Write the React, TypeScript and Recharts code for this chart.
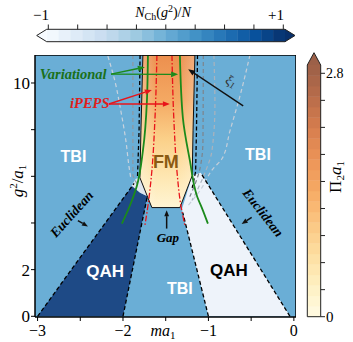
import React from "react";
import { ComposedChart, XAxis, YAxis, Scatter, Curve } from "recharts";

type Pt = [number, number];
type XY = { x: number; y: number };

const SERIF = "'Liberation Serif', 'Times New Roman', serif";
const SANS = "'Liberation Sans', Arial, sans-serif";

// axes (ma1 horizontally, g^2/a1 vertically)
const xTicks = [-3, -2.5, -2, -1.5, -1, -0.5, 0];
const xTickLabels = [-3, -2, -1, 0];
const yTicks = [0, 2, 4, 6, 8, 10];
const yTickLabels = [0, 2, 10];
const xDomain: Pt = [-3.03, 0.025];
const yDomain: Pt = [-0.03, 11.2];

// phase regions
const plotBox: Pt[] = [[-3.03, -0.03], [0.025, -0.03], [0.025, 11.2], [-3.03, 11.2]];
const qahDark: Pt[] = [[-3, 0], [-2, 0], [-1.715, 5.15], [-1.8, 5.3], [-1.89, 5.6]];
const qahLight: Pt[] = [[-1, 0], [-0.046, 0], [-1.09, 6.15], [-1.19, 6.03], [-1.31, 4.6], [-1.3, 4.44]];
const gapPatch: Pt[] = [[-1.9, 5.6], [-1.85, 5.9], [-1.8, 5.94], [-1.73, 5.28], [-1.715, 5.15], [-1.8, 5.3]];
const fmRegion: Pt[] = [[-1.767, 11.2], [-1.158, 11.2], [-1.18, 7.95], [-1.19, 6.03], [-1.334, 4.66], [-1.662, 4.66], [-1.802, 5.94], [-1.79, 7.95]];

// dashed phase boundaries
const edgeDarkL: Pt[] = [[-3, 0], [-1.87, 5.7]];
const edgeDarkR: Pt[] = [[-2, 0], [-1.715, 5.15]];
const edgeLightL: Pt[] = [[-1, 0], [-1.3, 4.44]];
const edgeLightR: Pt[] = [[-0.046, 0], [-1.09, 6.15]];
const edgeFmL: Pt[] = [[-1.8, 11.2], [-1.812, 7.95], [-1.83, 6.0]];
const edgeFmR: Pt[] = [[-1.128, 11.2], [-1.14, 7.95], [-1.15, 6.2], [-1.19, 5.5]];

// xi_1 contours
const xiL1: Pt[] = [[-2.177, 11.15], [-2.095, 10.09], [-2.025, 8.8], [-1.966, 7.52], [-1.931, 6.45], [-1.908, 5.9]];
const xiL2: Pt[] = [[-1.884, 11.2], [-1.884, 6.03], [-1.837, 5.68]];
const xiR2: Pt[] = [[-1.06, 11.2], [-1.064, 7.52], [-1.1, 6.32], [-1.217, 5.13]];
const xiR3: Pt[] = [[-0.936, 11.2], [-0.924, 9.02], [-0.959, 7.09], [-1.041, 6.15], [-1.193, 4.96]];
const xiR4: Pt[] = [[-0.514, 11.2], [-0.631, 9.44], [-0.748, 7.95], [-0.842, 6.75], [-0.947, 6.32], [-1.1, 5.38], [-1.24, 4.74]];

// variational (green) and iPEPS (red) boundaries
const greenL: Pt[] = [[-1.708, 11.2], [-1.72, 9.23], [-1.767, 7.09], [-1.837, 5.6], [-1.92, 4.74], [-2.013, 3.97]];
const greenR: Pt[] = [[-1.334, 11.2], [-1.299, 8.5], [-1.217, 6.67], [-1.135, 5.17], [-1.064, 4.53], [-1.006, 3.97]];
const redL: Pt[] = [[-1.603, 11.2], [-1.627, 8.38], [-1.662, 6.24], [-1.708, 4.74], [-1.744, 3.89]];
const redR: Pt[] = [[-1.427, 11.2], [-1.404, 8.38], [-1.369, 6.24], [-1.322, 4.74], [-1.275, 3.89]];

// annotation arrows
const arrVar1: Pt[] = [[-2.14, 10.38], [-1.744, 10.68]];
const arrVar2: Pt[] = [[-2.14, 10.38], [-1.355, 10.37]];
const arrPeps1: Pt[] = [[-2.165, 9.1], [-1.662, 9.7]];
const arrPeps2: Pt[] = [[-2.165, 9.1], [-1.451, 9.1]];
const arrXi: Pt[] = [[-0.593, 9.02], [-1.237, 10.59]];
const arrEucL: Pt[] = [[-2.528, 4.1], [-2.41, 3.85]];
const arrEucR: Pt[] = [[-0.494, 4.24], [-0.611, 3.96]];
const arrGap: Pt[] = [[-1.489, 3.76], [-1.489, 4.55]];

// annotation anchors
const tbiAt: Pt[] = [[-2.58, 6.84], [-0.42, 6.92], [-1.334, 1.2]];
const qahDarkAt: Pt[] = [[-2.21, 1.92]];
const qahLightAt: Pt[] = [[-0.76, 1.97]];
const fmAt: Pt[] = [[-1.498, 6.62]];
const variationalAt: Pt[] = [[-2.975, 10.17]];
const ipepsAt: Pt[] = [[-2.62, 8.93]];
const eucLAt: Pt[] = [[-2.6, 4.38]];
const eucRAt: Pt[] = [[-0.36, 4.44]];
const gapAt: Pt[] = [[-1.474, 3.38]];
const xiAt: Pt[] = [[-0.73, 10.08]];

// colorbars
const blues = ["#f7fbff", "#deebf7", "#c6dbef", "#9ecae1", "#6baed6", "#4292c6", "#2171b5", "#08519c", "#08306b"];
const oranges = ["#fffbe3", "#fef0c2", "#fddea0", "#fbc682", "#f6aa64", "#ec9458", "#d67d4e", "#b86c4a", "#9c6048"];

const toData = (a: Pt[]) => a.map(([x, y]) => ({ x, y }));
const noDot = () => <g />;
const pathOf = (pts: XY[]) => "M" + pts.map((p) => `${p.x.toFixed(2)},${p.y.toFixed(2)}`).join("L");

const hex = (h: string) => [1, 3, 5].map((i) => parseInt(h.slice(i, i + 2), 16));
const mix = (stops: string[], t: number) => {
  const f = Math.max(0, Math.min(1, t)) * (stops.length - 1);
  const i = Math.min(stops.length - 2, Math.floor(f));
  const a = hex(stops[i]);
  const b = hex(stops[i + 1]);
  const k = f - i;
  return `rgb(${a.map((v, j) => Math.round(v + (b[j] - v) * k)).join(",")})`;
};

const poly = (key: string, pts: Pt[], fill: string, stroke = "none", sw = 0, defs?: React.ReactNode) => (
  <Scatter
    key={key}
    data={toData(pts)}
    isAnimationActive={false}
    shape={noDot}
    line={(p: any) => (
      <g>
        {defs}
        <path d={pathOf(p.points) + "Z"} fill={fill} stroke={stroke} strokeWidth={sw} strokeLinejoin="round" />
      </g>
    )}
  />
);

const curve = (key: string, pts: Pt[], stroke: string, sw: number, dash?: string, type: any = "linear") => (
  <Scatter
    key={key}
    data={toData(pts)}
    isAnimationActive={false}
    shape={noDot}
    line={(p: any) => (
      <Curve points={p.points} type={type} fill="none" stroke={stroke} strokeWidth={sw} strokeDasharray={dash} />
    )}
  />
);

const arrow = (key: string, pts: Pt[], color: string, sw = 1.3, head = 7) => (
  <Scatter
    key={key}
    data={toData(pts)}
    isAnimationActive={false}
    shape={noDot}
    line={(p: any) => {
      const a: XY = p.points[0];
      const b: XY = p.points[p.points.length - 1];
      const ang = Math.atan2(b.y - a.y, b.x - a.x);
      const c = Math.cos(ang);
      const s = Math.sin(ang);
      const bx = b.x - head * c;
      const by = b.y - head * s;
      const w = head * 0.4;
      return (
        <g>
          <line x1={a.x} y1={a.y} x2={bx} y2={by} stroke={color} strokeWidth={sw} />
          <polygon points={`${b.x},${b.y} ${bx - w * s},${by + w * c} ${bx + w * s},${by - w * c}`} fill={color} />
        </g>
      );
    }}
  />
);

const label = (key: string, pos: Pt[], content: React.ReactNode, style: any, rotate = 0) => (
  <Scatter
    key={key}
    data={toData(pos)}
    isAnimationActive={false}
    shape={(p: any) => (
      <text
        x={p.cx}
        y={p.cy}
        transform={rotate ? `rotate(${rotate} ${p.cx} ${p.cy})` : undefined}
        textAnchor="middle"
        dominantBaseline="central"
        {...style}
      >
        {content}
      </text>
    )}
  />
);

const fmDefs = (
  <defs>
    <linearGradient id="fmV" x1="0" y1="0" x2="0" y2="1">
      <stop offset="0" stopColor="#ec8f4e" />
      <stop offset="0.3" stopColor="#f4a963" />
      <stop offset="0.55" stopColor="#fbd089" />
      <stop offset="0.8" stopColor="#fee7b2" />
      <stop offset="1" stopColor="#fff5d4" />
    </linearGradient>
    <linearGradient id="fmH" x1="0" y1="0" x2="1" y2="0">
      <stop offset="0" stopColor="#fff" stopOpacity="0.3" />
      <stop offset="0.3" stopColor="#fff" stopOpacity="0" />
      <stop offset="0.7" stopColor="#fff" stopOpacity="0" />
      <stop offset="1" stopColor="#fff" stopOpacity="0.25" />
    </linearGradient>
  </defs>
);

const boldSans = { fontFamily: SANS, fontWeight: 700 };
const boldItalic = { fontFamily: SERIF, fontWeight: 700, fontStyle: "italic" };

function ColorBars() {
  const topBands = 20;
  const tx0 = 46.7, tx1 = 285, ty0 = 29.3, ty1 = 41.7;
  const rBands = 24;
  const rx0 = 307.3, rx1 = 320.7, ry0 = 65, ry1 = 316.7;
  const bw = (tx1 - tx0) / topBands;
  const bh = (ry1 - ry0) / rBands;
  return (
    <svg width={353} height={342} style={{ position: "absolute", left: 0, top: 0, pointerEvents: "none" }}>
      {Array.from({ length: topBands }, (_, i) => (
        <rect key={i} x={tx0 + i * bw} y={ty0} width={bw + 0.4} height={ty1 - ty0} fill={mix(blues, (i + 0.5) / topBands)} />
      ))}
      <polygon points={`${tx0},${ty0} 36.7,35.5 ${tx0},${ty1}`} fill={blues[0]} />
      <polygon points={`${tx1},${ty0} 295,35.5 ${tx1},${ty1}`} fill={blues[8]} />
      <path d={`M${tx0},${ty0}L${tx1},${ty0}L295,35.5L${tx1},${ty1}L${tx0},${ty1}L36.7,35.5Z`} fill="none" stroke="#222" strokeWidth={1} />
      {Array.from({ length: 9 }, (_, i) => {
        const x = 48.3 + (i * (283.3 - 48.3)) / 8;
        return <line key={i} x1={x} x2={x} y1={ty0} y2={24.5} stroke="#222" strokeWidth={1} />;
      })}
      <text x={41} y={20} textAnchor="middle" fontFamily={SERIF} fontSize={15}>−1</text>
      <text x={276} y={20} textAnchor="middle" fontFamily={SERIF} fontSize={15}>+1</text>
      <text x={163} y={17} textAnchor="middle" fontFamily={SERIF} fontSize={14}>
        <tspan fontStyle="italic">N</tspan>
        <tspan fontSize={10} dy={3}>Ch</tspan>
        <tspan dy={-3}>(</tspan>
        <tspan fontStyle="italic">g</tspan>
        <tspan fontSize={10} dy={-5}>2</tspan>
        <tspan dy={5}>)/</tspan>
        <tspan fontStyle="italic">N</tspan>
      </text>

      {Array.from({ length: rBands }, (_, i) => (
        <rect key={i} x={rx0} y={ry1 - (i + 1) * bh} width={rx1 - rx0} height={bh + 0.4} fill={mix(oranges, (i + 0.5) / rBands)} />
      ))}
      <polygon points={`${rx0},${ry0} 314,52.7 ${rx1},${ry0}`} fill={oranges[8]} />
      <path d={`M${rx0},${ry1}L${rx0},${ry0}L314,52.7L${rx1},${ry0}L${rx1},${ry1}Z`} fill="none" stroke="#222" strokeWidth={1} />
      {Array.from({ length: 10 }, (_, i) => {
        const y = ry1 - (i * (ry1 - 73.3)) / 9;
        return <line key={i} x1={rx1} x2={325} y1={y} y2={y} stroke="#222" strokeWidth={1} />;
      })}
      <text x={326} y={73.3} dominantBaseline="central" fontFamily={SERIF} fontSize={14}>2.8</text>
      <text x={326} y={316.7} dominantBaseline="central" fontFamily={SERIF} fontSize={15}>0</text>
      <text transform="translate(341,177) rotate(-90)" textAnchor="middle" fontFamily={SERIF} fontSize={17}>
        Π<tspan fontSize={11} dy={3}>2</tspan>
        <tspan dy={-3} fontStyle="italic">a</tspan>
        <tspan fontSize={11} dy={3}>1</tspan>
      </text>

      <text x={163} y={336} textAnchor="middle" fontFamily={SERIF} fontSize={16}>
        <tspan fontStyle="italic">ma</tspan>
        <tspan fontSize={11} dy={3}>1</tspan>
      </text>
      <text transform="translate(23,181) rotate(-90)" textAnchor="middle" fontFamily={SERIF} fontSize={17}>
        <tspan fontStyle="italic">g</tspan>
        <tspan fontSize={11} dy={-6}>2</tspan>
        <tspan dy={6}>/</tspan>
        <tspan fontStyle="italic">a</tspan>
        <tspan fontSize={11} dy={3}>1</tspan>
      </text>
    </svg>
  );
}

export default function App() {
  return (
    <div style={{ position: "absolute", left: 0, top: 0, width: 353, height: 342, background: "#fff" }}>
      <ComposedChart width={353} height={342} margin={{ top: 55, right: 57, bottom: 0, left: 0 }}>
        <XAxis
          type="number"
          dataKey="x"
          domain={xDomain}
          allowDataOverflow
          ticks={xTicks}
          interval={0}
          height={25}
          tickSize={4}
          tickMargin={4}
          tickFormatter={(v: number) => (xTickLabels.includes(v) ? (v < 0 ? "−" + Math.abs(v) : String(v)) : "")}
          tick={{ fill: "#000", fontSize: 16, fontFamily: SERIF }}
          axisLine={{ stroke: "#000", strokeWidth: 1.5 }}
          tickLine={{ stroke: "#000", strokeWidth: 1 }}
        />
        <YAxis
          type="number"
          dataKey="y"
          domain={yDomain}
          allowDataOverflow
          ticks={yTicks}
          interval={0}
          width={35}
          tickSize={4}
          tickMargin={1}
          tickFormatter={(v: number) => (yTickLabels.includes(v) ? String(v) : "")}
          tick={{ fill: "#000", fontSize: 17, fontFamily: SERIF }}
          axisLine={{ stroke: "#000", strokeWidth: 1.5 }}
          tickLine={{ stroke: "#000", strokeWidth: 1 }}
        />

        {poly("bg", plotBox, "#6aaed6")}
        {poly("qahDark", qahDark, "#1e4a86")}
        {poly("qahLight", qahLight, "#eef3fa")}
        {poly("gapPatch", gapPatch, "#dfe6ee")}

        {poly("fm", fmRegion, "url(#fmV)", "none", 0, fmDefs)}
        {poly("fmEdge", fmRegion, "url(#fmH)")}
        {poly("fmLine", fmRegion, "none", "#111", 1)}

        {curve("xiL1", xiL1, "#c9d3de", 1.2, "4 3", "monotoneY")}
        {curve("xiL2", xiL2, "#8f969e", 1.2, "4 3")}
        {curve("xiR2", xiR2, "#7d848c", 1.2, "4 3", "monotoneY")}
        {curve("xiR3", xiR3, "#aab3bd", 1.2, "4 3", "monotoneY")}
        {curve("xiR4", xiR4, "#c6cfd9", 1.2, "4 3", "monotoneY")}

        {curve("edgeDarkL", edgeDarkL, "#000", 1.3, "4 2.5")}
        {curve("edgeDarkR", edgeDarkR, "#000", 1.3, "4 2.5")}
        {curve("edgeLightL", edgeLightL, "#000", 1.3, "4 2.5")}
        {curve("edgeLightR", edgeLightR, "#000", 1.3, "4 2.5")}
        {curve("edgeFmL", edgeFmL, "#000", 1.3, "4 2.5")}
        {curve("edgeFmR", edgeFmR, "#000", 1.3, "4 2.5")}

        {curve("redL", redL, "#e8141a", 1.3, "6 2 1.5 2", "monotoneY")}
        {curve("redR", redR, "#e8141a", 1.3, "6 2 1.5 2", "monotoneY")}
        {curve("greenL", greenL, "#1b8a1b", 1.8, undefined, "monotoneY")}
        {curve("greenR", greenR, "#1b8a1b", 1.8, undefined, "monotoneY")}

        {arrow("aVar1", arrVar1, "#1b8a1b", 1.4)}
        {arrow("aVar2", arrVar2, "#1b8a1b", 1.4)}
        {arrow("aPeps1", arrPeps1, "#e8141a", 1.4)}
        {arrow("aPeps2", arrPeps2, "#e8141a", 1.4)}
        {arrow("aXi", arrXi, "#111", 1.3)}
        {arrow("aEucL", arrEucL, "#111", 1.5, 6)}
        {arrow("aEucR", arrEucR, "#111", 1.5, 6)}
        {arrow("aGap", arrGap, "#111", 1.5, 6)}

        {label("tbi", tbiAt, "TBI", { ...boldSans, fontSize: 16, fill: "#fff" })}
        {label("qahD", qahDarkAt, "QAH", { ...boldSans, fontSize: 17, fill: "#fff" })}
        {label("qahL", qahLightAt, "QAH", { ...boldSans, fontSize: 17, fill: "#000" })}
        {label("fmTxt", fmAt, "FM", { ...boldSans, fontSize: 18, fill: "#8a5a12" })}
        {label("var", variationalAt, "Variational", { ...boldItalic, fontSize: 14.5, fill: "#1a701a", textAnchor: "start", dominantBaseline: "auto" })}
        {label("peps", ipepsAt, "iPEPS", { ...boldItalic, fontSize: 14.5, fill: "#e0201c", textAnchor: "start", dominantBaseline: "auto" })}
        {label("eucL", eucLAt, "Euclidean", { ...boldItalic, fontSize: 13.5, fill: "#000" }, -48)}
        {label("eucR", eucRAt, "Euclidean", { ...boldItalic, fontSize: 13.5, fill: "#000" }, 52)}
        {label("gap", gapAt, "Gap", { ...boldItalic, fontSize: 13, fill: "#000" })}
        {label(
          "xi",
          xiAt,
          [<tspan key="a">ξ</tspan>, <tspan key="b" fontSize={9} dy={3}>1</tspan>],
          { fontFamily: SERIF, fontSize: 14, fill: "#333" },
          34
        )}

        {poly("frame", plotBox, "none", "#000", 1.5)}
      </ComposedChart>
      <ColorBars />
    </div>
  );
}
